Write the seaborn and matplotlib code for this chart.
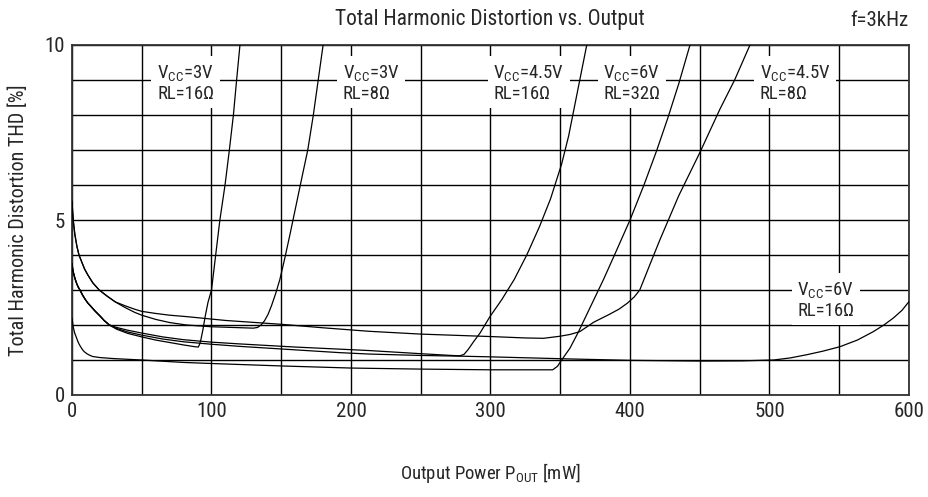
import matplotlib
matplotlib.use("Agg")
import matplotlib.pyplot as plt
from matplotlib import font_manager
import numpy as np
import pandas as pd
import seaborn as sns

# curves (output power mW, THD %)
p_3v_16 = [0, 0.5, 1, 1.7, 2.6, 3.5, 4.5, 5.7, 7.5, 9.5, 11.5, 13.6, 16.5, 20, 23, 26.8,
           32, 40, 50, 60, 70, 80, 88, 90.5, 91.5, 92.5, 94, 95.5, 97.5, 100, 103, 106,
           109.7, 112.8, 115.7, 118, 120.4]
thd_3v_16 = [3.75, 3.6, 3.5, 3.39, 3.27, 3.17, 3.08, 3.0, 2.86, 2.73, 2.62, 2.53, 2.4, 2.26, 2.13, 2.0,
             1.88, 1.76, 1.66, 1.57, 1.5, 1.43, 1.38, 1.37, 1.45, 1.6, 1.9, 2.25, 2.65, 3.0, 4.0, 5.0,
             6.0, 7.0, 8.0, 9.0, 10.0]

p_3v_8 = [0, 0.5, 1, 2, 3.5, 5, 7, 9, 11.5, 15, 19.5, 25, 31, 38, 45, 50, 60, 70, 82, 100, 115,
          130, 133, 135.5, 138, 140.5, 143, 146, 149, 152.5, 156, 160, 165, 169, 173, 176.5, 180]
thd_3v_8 = [5.54, 5.2, 4.95, 4.6, 4.25, 4.0, 3.8, 3.6, 3.42, 3.2, 3.0, 2.83, 2.66, 2.5, 2.36, 2.28,
            2.16, 2.07, 2.0, 1.95, 1.93, 1.91, 1.93, 2.0, 2.12, 2.3, 2.55, 2.9, 3.3, 3.9, 4.54, 5.3,
            6.25, 7.0, 8.0, 9.0, 10.0]

p_45v_16 = [0, 0.5, 1, 1.7, 2.6, 3.5, 4.5, 5.7, 7.5, 9.5, 11.5, 13.6, 16.5, 20, 23, 26.8,
            32, 40, 50, 65, 80, 100, 120, 160, 192, 213, 250, 272, 278, 281, 284, 288, 292.5,
            299.6, 308, 317, 326, 335, 343, 351, 356, 361, 365, 369]
thd_45v_16 = [3.75, 3.6, 3.5, 3.39, 3.27, 3.17, 3.08, 3.0, 2.86, 2.73, 2.62, 2.53, 2.4, 2.26, 2.13, 2.0,
              1.93, 1.85, 1.77, 1.66, 1.58, 1.51, 1.46, 1.37, 1.31, 1.27, 1.18, 1.13, 1.12, 1.16, 1.3,
              1.53, 1.77, 2.24, 2.72, 3.3, 4.0, 4.8, 5.6, 6.6, 7.4, 8.4, 9.2, 10.0]

p_6v_32 = [0, 0.5, 1, 2, 2.9, 4, 5, 6.3, 7.6, 9, 11, 13, 14.8, 20, 30, 50, 80, 100, 150, 200,
           250, 300, 344.6, 348, 351, 357, 363, 372, 381, 390, 400, 410, 419, 427, 435, 443]
thd_6v_32 = [2.2, 2.05, 1.92, 1.76, 1.67, 1.55, 1.46, 1.37, 1.29, 1.23, 1.17, 1.13, 1.1, 1.07, 1.04,
             1.0, 0.93, 0.9, 0.83, 0.77, 0.74, 0.72, 0.72, 0.82, 1.0, 1.34, 1.8, 2.55, 3.3, 4.1, 5.0,
             6.0, 6.97, 7.9, 8.9, 10.0]

p_45v_8 = [0, 0.5, 1, 2, 3.5, 5, 7, 9, 11.5, 15, 19.5, 25, 31, 38, 45, 50, 60, 70, 82, 110, 150,
           180, 213, 250, 300, 325, 338, 350, 357, 364, 374, 385, 392, 398, 403, 407, 414, 421.5,
           435, 450, 464.5, 475, 486]
thd_45v_8 = [5.54, 5.2, 4.95, 4.6, 4.25, 4.0, 3.8, 3.6, 3.42, 3.2, 3.0, 2.83, 2.66, 2.55, 2.45, 2.39,
             2.33, 2.28, 2.24, 2.13, 2.02, 1.92, 1.82, 1.74, 1.67, 1.63, 1.62, 1.68, 1.73, 1.81, 2.08,
             2.3, 2.45, 2.62, 2.8, 3.0, 3.7, 4.44, 5.7, 6.92, 8.17, 9.0, 10.0]

p_6v_16 = [0, 0.5, 1, 1.7, 2.6, 3.5, 4.5, 5.7, 7.5, 9.5, 11.5, 13.6, 16.5, 20, 23, 26.8,
           32, 40, 50, 65, 80, 100, 120, 160, 192, 213, 250, 278, 300, 357, 400, 450, 480, 503,
           515, 526.6, 538, 550.5, 563, 574.4, 582, 588.8, 595, 600]
thd_6v_16 = [3.75, 3.6, 3.5, 3.39, 3.27, 3.17, 3.08, 3.0, 2.86, 2.73, 2.62, 2.53, 2.4, 2.26, 2.13, 2.0,
             1.9, 1.8, 1.71, 1.6, 1.52, 1.45, 1.39, 1.29, 1.21, 1.17, 1.13, 1.11, 1.09, 1.03, 0.99,
             0.97, 0.975, 1.0, 1.06, 1.15, 1.25, 1.38, 1.57, 1.81, 2.0, 2.2, 2.42, 2.67]

curve_vcc = ["3V", "3V", "4.5V", "6V", "4.5V", "6V"]
curve_rl = ["16", "8", "16", "32", "8", "16"]
curve_p = [p_3v_16, p_3v_8, p_45v_16, p_6v_32, p_45v_8, p_6v_16]
curve_thd = [thd_3v_16, thd_3v_8, thd_45v_16, thd_6v_32, thd_45v_8, thd_6v_16]

# label anchors (left edge, vertical centre) in data units
label_x = [61, 194, 302, 381, 493, 520]
label_y = [8.92, 8.92, 8.92, 8.92, 8.92, 2.72]

df = pd.concat(
    [pd.DataFrame({"P": p, "THD": t, "curve": f"{v}/{r}"})
     for p, t, v, r in zip(curve_p, curve_thd, curve_vcc, curve_rl)],
    ignore_index=True,
)

sns.set_style("white")
installed = {f.name for f in font_manager.fontManager.ttflist}
family = next((f for f in ["Liberation Sans Narrow", "Roboto Condensed", "DejaVu Sans"] if f in installed),
              "DejaVu Sans")
plt.rcParams["font.family"] = [family, "DejaVu Sans"]
plt.rcParams["mathtext.fontset"] = "custom"
plt.rcParams["mathtext.rm"] = family
plt.rcParams["mathtext.it"] = family

fig = plt.figure(figsize=(9.29, 4.97), dpi=100)
ax = fig.add_axes([72 / 929, 1 - 395 / 497, 837 / 929, 350 / 497])

for name, grp in df.groupby("curve", sort=False):
    sns.lineplot(data=grp, x="P", y="THD", ax=ax, color="black", linewidth=0.9,
                 sort=False, estimator=None, zorder=4)

ax.set_xlim(0, 600)
ax.set_ylim(0, 10)
ax.set_xticks(range(0, 601, 100))
ax.set_xticks(range(50, 600, 100), minor=True)
ax.set_yticks([0, 5, 10])
ax.set_yticks([1, 2, 3, 4, 6, 7, 8, 9], minor=True)
ax.grid(True, which="both", color="black", linewidth=1.0, zorder=1)
ax.set_axisbelow(True)
ax.tick_params(which="both", length=0, labelsize=15, pad=5)
for s in ax.spines.values():
    s.set_color("#333333")
    s.set_linewidth(1.3)

for v, r, x, y in zip(curve_vcc, curve_rl, label_x, label_y):
    ax.text(x, y, f"V$_{{\\mathrm{{CC}}}}$={v}\nRL={r}Ω", fontsize=13.5, ha="left", va="center",
            linespacing=1.12, zorder=3,
            bbox=dict(boxstyle="square,pad=0.3", facecolor="white", edgecolor="none"))

ax.set_xlabel("Output Power P$_{\\mathrm{OUT}}$ [mW]", fontsize=13.5, labelpad=29)
ax.set_ylabel("Total Harmonic Distortion THD [%]", fontsize=14.5, labelpad=12)
fig.text(490 / 929, 1 - 20 / 497, "Total Harmonic Distortion vs. Output", fontsize=15.5,
         ha="center", va="center")
fig.text(909 / 929, 1 - 20 / 497, "f=3kHz", fontsize=15, ha="right", va="center")

fig.savefig("out.png", dpi=100)
